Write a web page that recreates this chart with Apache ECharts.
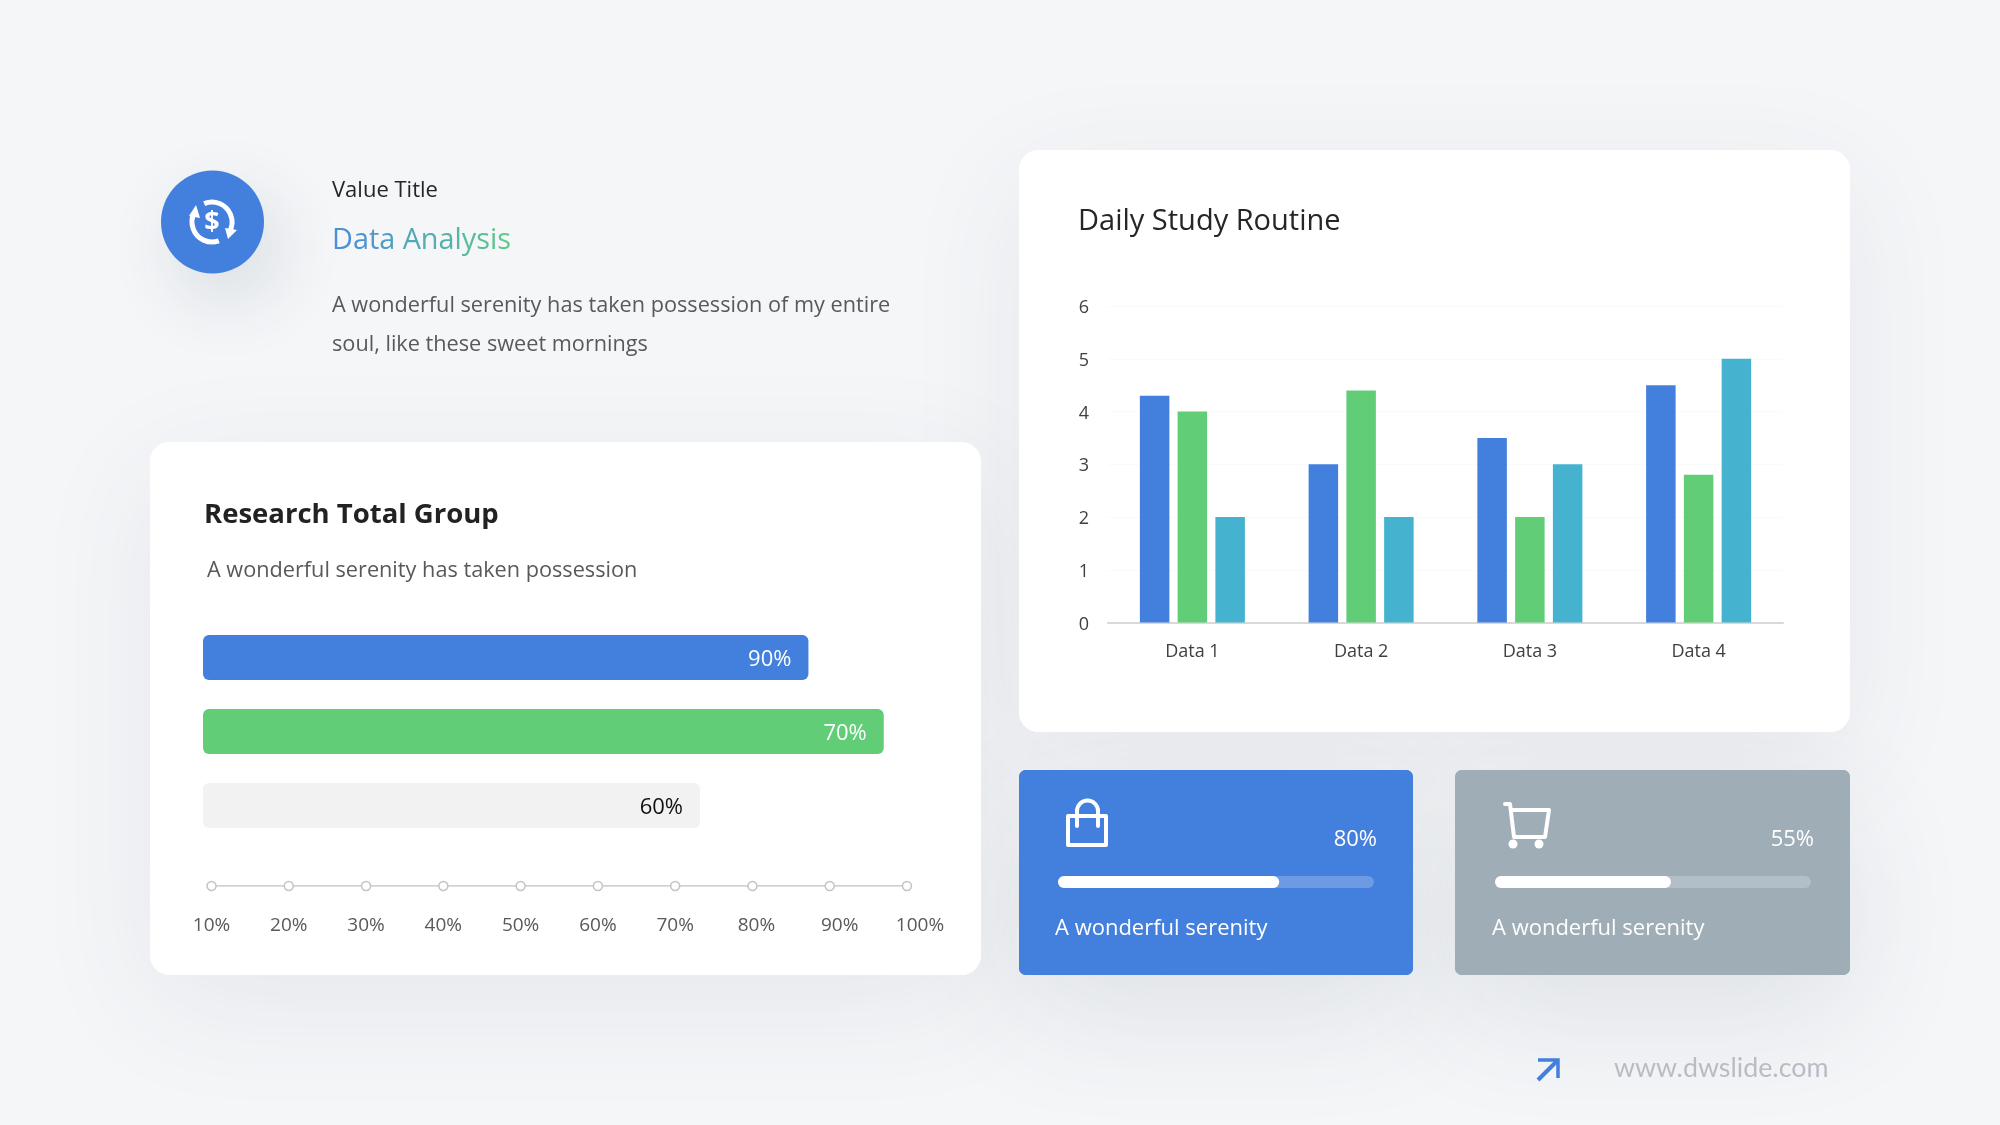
<!DOCTYPE html>
<html>
<head>
<meta charset="utf-8">
<title>Data Analysis</title>
<style>
  html, body { margin: 0; padding: 0; background: #f4f6f8; }
  #main { width: 2000px; height: 1125px; }
</style>
<script src="https://cdn.jsdelivr.net/npm/echarts@6/dist/echarts.min.js"></script>
</head>
<body>
<div id="main"></div>
<script>
// column chart
const categories = ['Data 1', 'Data 2', 'Data 3', 'Data 4'];
const seriesBlue = [4.3, 3, 3.5, 4.5];
const seriesGreen = [4, 4.4, 2, 2.8];
const seriesTeal = [2, 2, 3, 5];

const groupLengths = [86, 96.7, 70.6];
const groupLabels = ['90%', '70%', '60%'];

// slider
const sliderTicks = ['10%', '20%', '30%', '40%', '50%', '60%', '70%', '80%', '90%', '100%'];
const sliderValues = [0, 0, 0, 0, 0, 0, 0, 0, 0, 0];

// small cards
const bagProgress = [70];
const cartProgress = [55.7];

const FONT = '"Open Sans", sans-serif';
const BLUE = '#437fdd', GREEN = '#62cd77', TEAL = '#45b3cf', GREY = '#9eadb6';

function text(x, y, str, size, fill, extra) {
    return {
        type: 'text', x: x, y: y, z: 5,
        style: Object.assign({
            text: str, fontFamily: FONT, fontSize: size, fill: fill, textVerticalAlign: 'middle'
        }, extra || {})
    };
}

// canvas text takes no gradient, so the heading gets one colour per letter
function gradientText(x, y, str, size, from, to) {
    let rich = {};
    let marked = str.split('').map(function (ch, i) {
        let key = 'c' + i;
        rich[key] = {
            fontFamily: FONT, fontSize: size,
            fill: echarts.color.lerp(i / (str.length - 1), [from, to])
        };
        return '{' + key + '|' + ch + '}';
    }).join('');
    return text(x, y, marked, size, from, { rich: rich });
}

// shadows go below every card so they never fall on a neighbour
function card(x, y, w, h, r, fill, blur, dy, alpha) {
    let shape = { x: x, y: y, width: w, height: h, r: r };
    return [
        { type: 'rect', z: -11, shape: shape,
          style: { fill: fill, shadowBlur: blur, shadowOffsetY: dy, shadowColor: 'rgba(60,70,90,' + alpha + ')' } },
        { type: 'rect', z: -10, shape: shape, style: { fill: fill } }
    ];
}

// white outline pieces for the icons
function line(points, width) {
    return {
        type: 'polyline', z: 5, shape: { points: points },
        style: { fill: null, stroke: '#fff', lineWidth: width, lineCap: 'round', lineJoin: 'round' }
    };
}

function arc(cx, cy, r, from, to, width) {
    return {
        type: 'arc', z: 5,
        shape: { cx: cx, cy: cy, r: r, startAngle: from * Math.PI / 180, endAngle: to * Math.PI / 180, clockwise: true },
        style: { fill: null, stroke: '#fff', lineWidth: width }
    };
}

function dot(cx, cy, r) {
    return { type: 'circle', z: 5, shape: { cx: cx, cy: cy, r: r }, style: { fill: '#fff' } };
}

const graphics = [].concat(
    // cards
    card(150, 442, 831, 533, 20, '#fff', 120, 30, 0.08),
    card(1019, 150, 831, 582, 20, '#fff', 120, 30, 0.08),
    card(1019, 770, 394, 205, 7, BLUE, 120, 40, 0.11),
    card(1455, 770, 395, 205, 7, GREY, 120, 40, 0.11),
    [
        // top left
        { type: 'circle', z: -9, shape: { cx: 212.5, cy: 222, r: 51.5 },
          style: { fill: BLUE, shadowBlur: 70, shadowOffsetX: 14, shadowOffsetY: 26, shadowColor: 'rgba(60,70,90,0.14)' } },
        arc(212, 222, 20, 70, 209, 5),
        arc(212, 222, 20, 247, 395, 5),
        { type: 'polygon', z: 5, shape: { points: [[196, 205], [189, 216], [200, 218]] }, style: { fill: '#fff' } },
        { type: 'polygon', z: 5, shape: { points: [[228, 239], [225, 228], [237, 230]] }, style: { fill: '#fff' } },
        text(212, 222, '$', 27, '#fff', { fontWeight: 'bold', textAlign: 'center' }),
        text(332, 191, 'Value Title', 22, '#262626'),
        gradientText(332, 241, 'Data Analysis', 28.8, '#4a8fd8', '#5fc98a'),
        text(332, 306, 'A wonderful serenity has taken possession of my entire', 21.7, '#595959'),
        text(332, 345, 'soul, like these sweet mornings', 21.7, '#595959'),

        // research card
        text(204, 515, 'Research Total Group', 27.5, '#222', { fontWeight: 'bold' }),
        text(207, 571, 'A wonderful serenity has taken possession', 21.7, '#595959'),

        // column card
        text(1078, 222, 'Daily Study Routine', 29, '#262626'),

        // blue card
        line([[1068, 816], [1106, 816], [1106, 845], [1068, 845], [1068, 816]], 4),
        line([[1077, 826], [1077, 811]], 4),
        line([[1098, 826], [1098, 811]], 4),
        arc(1087.5, 811, 10.5, 180, 360, 4),
        text(1377, 840, '80%', 22, '#fff', { textAlign: 'right' }),
        text(1055, 929, 'A wonderful serenity', 22, '#fff'),

        // grey card
        line([[1505, 804], [1510, 804], [1514, 837], [1545, 837], [1549, 810], [1513, 810]], 4),
        dot(1513, 844, 4.5),
        dot(1539, 844, 4.5),
        text(1814, 840, '55%', 22, '#fff', { textAlign: 'right' }),
        text(1492, 929, 'A wonderful serenity', 22, '#fff'),

        // footer
        { type: 'polyline', z: 5, shape: { points: [[1538, 1080], [1557, 1061]] }, style: { stroke: BLUE, lineWidth: 4, fill: null } },
        { type: 'polyline', z: 5, shape: { points: [[1538, 1060], [1558, 1060], [1558, 1078]] }, style: { stroke: BLUE, lineWidth: 3.5, fill: null } },
        text(1614, 1068, 'www.dwslide.com', 26.8, '#b9bdc3', { fontFamily: 'Lato, sans-serif' })
    ]
);

function hiddenValue(gridIndex, max) {
    return { type: 'value', gridIndex: gridIndex, min: 0, max: max, show: false };
}

function progressSeries(index, values) {
    return {
        type: 'bar', xAxisIndex: index, yAxisIndex: index, data: values, barWidth: 12,
        showBackground: true,
        backgroundStyle: { color: 'rgba(255,255,255,0.22)', borderRadius: 6 },
        itemStyle: { color: '#fff', borderRadius: 6 },
        silent: true
    };
}

function columnSeries(name, values, color) {
    return { type: 'bar', name: name, xAxisIndex: 0, yAxisIndex: 0, data: values, barWidth: 29.5, barGap: '28%', itemStyle: { color: color } };
}

const option = {
    animation: false,
    backgroundColor: '#f4f6f8',
    textStyle: { fontFamily: FONT },
    graphic: { elements: graphics },
    grid: [
        { left: 1108, top: 306, width: 675, height: 316.5 },
        { left: 203, top: 620.5, width: 704, height: 222 },
        { left: 211.5, top: 866, width: 695.5, height: 20 },
        { left: 1058, top: 870, width: 316, height: 24 },
        { left: 1495, top: 870, width: 316, height: 24 }
    ],
    xAxis: [
        {
            type: 'category', gridIndex: 0, data: categories,
            axisTick: { show: false },
            axisLine: { lineStyle: { color: '#d9d9d9', width: 2 } },
            axisLabel: { color: '#404040', fontSize: 18, margin: 20 }
        },
        hiddenValue(1, 100),
        {
            type: 'category', gridIndex: 2, boundaryGap: false,
            data: sliderTicks.map(function (t, i) {
                // the last three labels sit a little right of their dots
                let shift = [0, 0, 0, 0, 0, 0, 0, 8, 20, 26][i];
                return { value: t, textStyle: { padding: [0, 0, 0, shift] } };
            }),
            axisTick: { show: false },
            axisLine: { show: false },
            axisLabel: { color: '#595959', fontSize: 19, margin: 30, interval: 0 }
        },
        hiddenValue(3, 100),
        hiddenValue(4, 100)
    ],
    yAxis: [
        {
            type: 'value', gridIndex: 0, min: 0, max: 6, interval: 1,
            axisLine: { show: false },
            axisTick: { show: false },
            // top aligned so the padding can push the numbers just below their lines
            axisLabel: { color: '#404040', fontSize: 18, margin: 19, verticalAlign: 'top', padding: [-7, 0, 0, 0] },
            splitLine: { lineStyle: { color: '#fafafa', width: 1 } }
        },
        { type: 'category', gridIndex: 1, inverse: true, data: groupLabels, show: false },
        { type: 'value', gridIndex: 2, min: 0, max: 1, show: false },
        { type: 'category', gridIndex: 3, data: ['bag'], show: false },
        { type: 'category', gridIndex: 4, data: ['cart'], show: false }
    ],
    series: [
        columnSeries('Blue', seriesBlue, BLUE),
        columnSeries('Green', seriesGreen, GREEN),
        columnSeries('Teal', seriesTeal, TEAL),
        {
            type: 'bar', xAxisIndex: 1, yAxisIndex: 1, barWidth: 45,
            data: groupLengths.map(function (v, i) {
                return {
                    value: v,
                    itemStyle: { color: [BLUE, GREEN, '#f2f2f2'][i], borderRadius: 6 },
                    label: { color: ['#fff', '#fff', '#111'][i] }
                };
            }),
            label: {
                show: true, position: 'insideRight', distance: 17, fontSize: 22, offset: [0, 2],
                formatter: function (p) { return groupLabels[p.dataIndex]; }
            }
        },
        {
            type: 'line', xAxisIndex: 2, yAxisIndex: 2, data: sliderValues,
            symbol: 'circle', symbolSize: 9, showSymbol: true,
            lineStyle: { color: '#c4c4c4', width: 1.5 },
            itemStyle: { color: '#fff', borderColor: '#c4c4c4', borderWidth: 1.5 }
        },
        progressSeries(3, bagProgress),
        progressSeries(4, cartProgress)
    ]
};

const chart = echarts.init(document.getElementById('main'));
chart.setOption(option);
</script>
</body>
</html>
